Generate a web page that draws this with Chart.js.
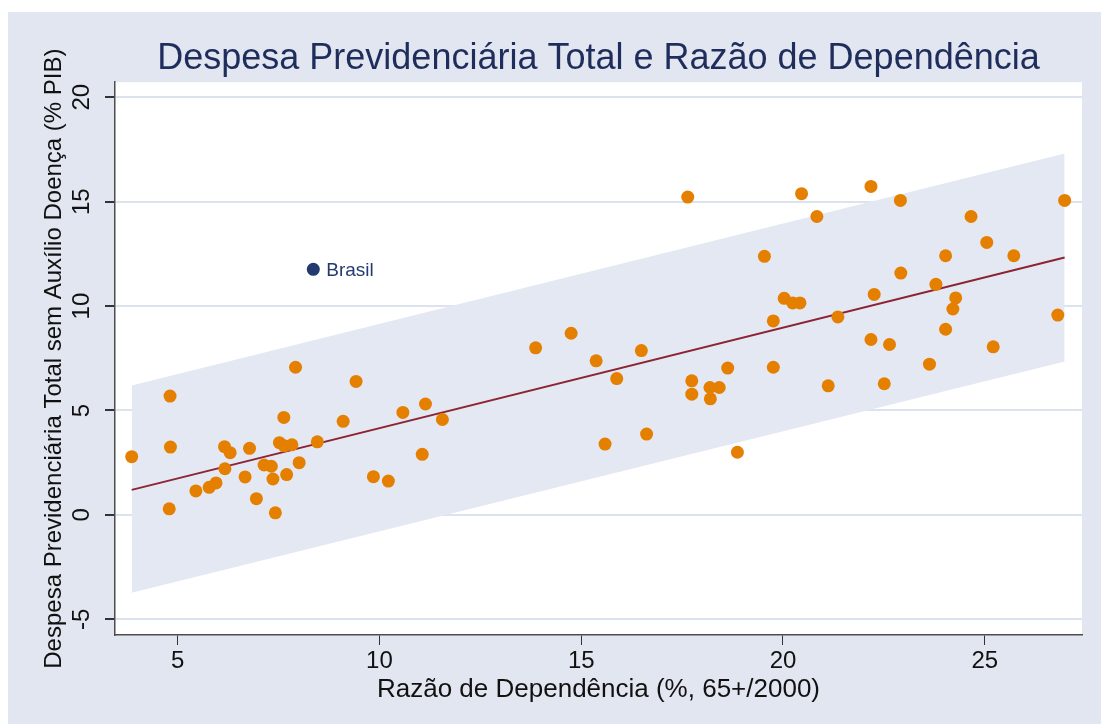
<!DOCTYPE html>
<html>
<head>
<meta charset="utf-8">
<script src="https://cdn.jsdelivr.net/npm/chart.js@4.4.1/dist/chart.umd.min.js"></script>
<style>
  body { margin: 0; background: #fff; }
  canvas { display: block; }
</style>
</head>
<body>
<canvas id="chart" width="1101" height="724"></canvas>
<script>
// razão de dependência (x) e despesa previdenciária (y) por país
const countryX = [
  3.86, 4.81, 4.82, 4.79, 5.45, 5.78, 5.95, 6.17, 6.16, 6.3, 6.67, 6.78,
  6.95, 7.14, 7.32, 7.36, 7.42, 7.52, 7.63, 7.7, 7.64, 7.83, 8.01, 7.92,
  8.46, 9.1, 9.42, 9.85, 10.22, 10.58, 11.14, 11.56, 11.06,
  13.87, 14.75, 15.37, 15.88, 15.59, 16.49, 16.62, 17.64, 17.74, 17.74,
  18.19, 18.42, 18.2, 18.63, 18.87, 19.54, 19.76, 19.76, 20.03, 20.24,
  20.42, 20.46, 20.84, 21.12, 21.36, 22.18, 22.18, 22.26, 22.51, 22.64,
  22.91, 22.92, 23.63, 23.79, 24.03, 24.03, 24.21, 24.28, 24.66, 25.05,
  25.21, 25.72, 26.81, 26.98,
];
const countryY = [
  2.79, 5.69, 3.25, 0.29, 1.15, 1.32, 1.53, 2.21, 3.27, 2.98, 1.82, 3.19,
  0.78, 2.39, 2.33, 1.72, 0.1, 3.46, 4.67, 1.93, 3.31, 3.36, 2.5, 7.07,
  3.5, 4.48, 6.39, 1.83, 1.62, 4.91, 5.31, 4.57, 2.9,
  8.0, 8.7, 7.38, 6.53, 3.39, 7.87, 3.87, 15.22, 6.42, 5.78,
  6.1, 6.1, 5.56, 7.03, 3.0, 12.38, 9.29, 7.07, 10.37, 10.15,
  10.15, 15.38, 14.29, 6.18, 9.48, 15.73, 8.4, 10.56, 6.28, 8.16,
  15.06, 11.58, 7.22, 11.04, 12.41, 8.89, 9.86, 10.39, 14.29, 13.05,
  8.05, 12.41, 9.57, 15.06,
];

const brasilLabel = "Brasil";
const brasilX = [8.36];
const brasilY = [11.76];

// reta ajustada e intervalo de previsão
const fitX = [3.86, 26.98];
const fitY = [1.2, 12.33];
const bandUpper = [6.2, 17.3];
const bandLower = [-3.73, 7.35];

const xTicks = [5, 10, 15, 20, 25];
const yTicks = [-5, 0, 5, 10, 15, 20];

const FONT = "'Liberation Sans', Arial, sans-serif";
const NAVY = "#1f2d5c";

function toPoints(xs, ys) {
  return xs.map((x, i) => ({ x: x, y: ys[i] }));
}

const backgroundPlugin = {
  id: "background",
  beforeDraw(chart) {
    const { ctx, width, height, chartArea } = chart;
    ctx.save();
    ctx.fillStyle = "#ffffff";
    ctx.fillRect(0, 0, width, height);
    ctx.fillStyle = "#e1e6f0";
    ctx.fillRect(8, 12, width - 8, height - 12);
    ctx.fillStyle = "#ffffff";
    ctx.fillRect(chartArea.left, chartArea.top,
      chartArea.right - chartArea.left, chartArea.bottom - chartArea.top);
    ctx.restore();
  },
};

const brasilPlugin = {
  id: "brasilLabel",
  afterDatasetsDraw(chart) {
    const pt = chart.getDatasetMeta(0).data[0];
    const ctx = chart.ctx;
    ctx.save();
    ctx.font = "19px " + FONT;
    ctx.fillStyle = "#233b72";
    ctx.textBaseline = "middle";
    ctx.fillText(brasilLabel, pt.x + 13, pt.y + 1);
    ctx.restore();
  },
};

const canvaEl = document.getElementById("chart");

const chart = new Chart(canvaEl, {
  type: "scatter",
  data: {
    datasets: [
      {
        label: brasilLabel,
        data: toPoints(brasilX, brasilY),
        backgroundColor: "#223a70",
        pointRadius: 6.5,
        borderWidth: 0,
      },
      {
        label: "Países",
        data: toPoints(countryX, countryY),
        backgroundColor: "#e57f00",
        pointRadius: 6.5,
        borderWidth: 0,
      },
      {
        label: "Ajuste",
        data: toPoints(fitX, fitY),
        showLine: true,
        borderColor: "#8c2434",
        borderWidth: 2,
        pointRadius: 0,
      },
      {
        label: "IC superior",
        data: toPoints(fitX, bandUpper),
        showLine: true,
        borderWidth: 0,
        borderColor: "rgba(0,0,0,0)",
        pointRadius: 0,
        fill: "+1",
        backgroundColor: "#e4e8f2",
      },
      {
        label: "IC inferior",
        data: toPoints(fitX, bandLower),
        showLine: true,
        borderWidth: 0,
        borderColor: "rgba(0,0,0,0)",
        pointRadius: 0,
      },
    ],
  },
  options: {
    responsive: false,
    animation: false,
    devicePixelRatio: 1,
    layout: { padding: { left: 0, right: 19, top: 0, bottom: 0 } },
    plugins: {
      legend: { display: false },
      tooltip: { enabled: false },
      title: {
        display: true,
        fullSize: false,
        text: "Despesa Previdenciária Total e Razão de Dependência",
        color: NAVY,
        font: { family: FONT, size: 36, weight: "normal", lineHeight: 1.2 },
        padding: { top: 37, bottom: 2 },
      },
    },
    scales: {
      x: {
        type: "linear",
        min: 3.446,
        max: 27.41,
        afterBuildTicks: (scale) => {
          scale.ticks = xTicks.map((v) => ({ value: v }));
        },
        afterFit: (scale) => {
          scale.height = 89;
        },
        grid: {
          drawOnChartArea: false,
          tickColor: "#333",
          tickLength: 10,
        },
        border: { color: "#4d4d4d", width: 1.5 },
        ticks: {
          color: "#111",
          padding: 2,
          font: { family: FONT, size: 24 },
        },
        title: {
          display: true,
          text: "Razão de Dependência (%, 65+/2000)",
          color: "#111",
          font: { family: FONT, size: 26 },
          padding: { top: 0, bottom: 19 },
        },
      },
      y: {
        type: "linear",
        min: -5.75,
        max: 20.72,
        afterBuildTicks: (scale) => {
          scale.ticks = yTicks.map((v) => ({ value: v }));
        },
        afterFit: (scale) => {
          scale.width = 115;
        },
        grid: {
          color: "#dde3ee",
          lineWidth: 2,
          tickColor: "#333",
          tickLength: 10,
        },
        border: { color: "#4d4d4d", width: 1.5 },
        ticks: {
          color: "#111",
          padding: 9,
          minRotation: 90,
          maxRotation: 90,
          crossAlign: "center",
          font: { family: FONT, size: 24 },
        },
        title: {
          display: true,
          text: "Despesa Previdenciária Total sem Auxílio Doença (% PIB)",
          color: "#111",
          font: { family: FONT, size: 24 },
          padding: { top: 40, bottom: 0 },
        },
      },
    },
  },
  plugins: [backgroundPlugin, brasilPlugin],
});
</script>
</body>
</html>
